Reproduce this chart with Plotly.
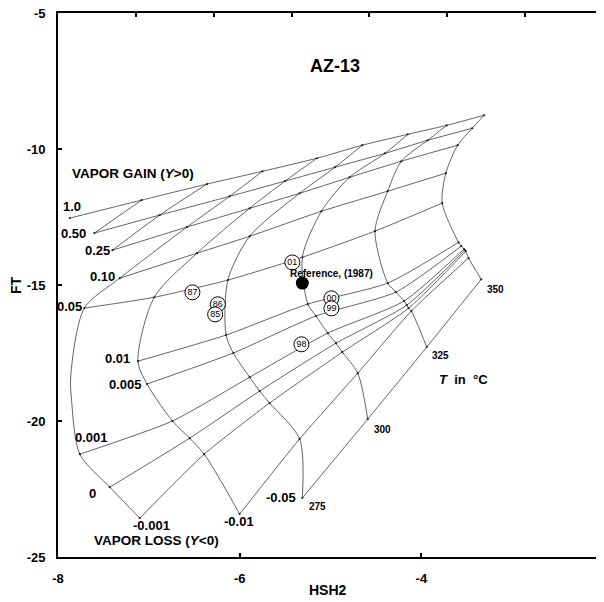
import plotly.graph_objects as go

# ---------------- data ----------------
Y_VALUES = [1.0, 0.50, 0.25, 0.10, 0.05, 0.01, 0.005, 0.001, 0, -0.001, -0.01, -0.05]
Y_LABELS = ["1.0", "0.50", "0.25", "0.10", "0.05", "0.01", "0.005", "0.001", "0", "-0.001", "-0.01", "-0.05"]
T_VALUES = [150, 175, 200, 225, 250, 275, 300, 325, 350]
T_LABELS = ["275", "300", "325", "350"]
# lowest temperature at which each Y line is drawn
Y_TMIN = [150, 175, 200, 225, 225, 250, 250, 225, 225, 225, 250, 275]

N = None
# grid nodes (HSH2, FT) for each isotherm, in the order of Y_VALUES
hsh2_T150 = [-7.87, N, N, N, N, N, N, N, N, N, N, N]
ft_T150 = [-12.54, N, N, N, N, N, N, N, N, N, N, N]
hsh2_T175 = [-7.08, -7.60, N, N, N, N, N, N, N, N, N, N]
ft_T175 = [-11.88, -13.09, N, N, N, N, N, N, N, N, N, N]
hsh2_T200 = [-6.36, -6.88, -7.40, N, N, N, N, N, N, N, N, N]
ft_T200 = [-11.29, -12.43, -13.72, N, N, N, N, N, N, N, N, N]
hsh2_T225 = [-5.75, -6.11, -6.58, -7.32, -7.71, -7.86, -7.85, -7.76, -7.43, -7.10, N, N]
ft_T225 = [-10.82, -11.74, -12.87, -14.75, -15.85, -18.35, -19.27, -21.22, -22.43, -23.57, N, N]
hsh2_T250 = [-5.15, -5.50, -5.89, -6.47, -6.94, -7.12, -7.02, -6.74, -6.55, -6.39, -6.00, N]
ft_T250 = [-10.34, -11.18, -12.18, -13.83, -15.45, -17.80, -18.64, -20.00, -20.63, -21.22, -23.42, N]
hsh2_T275 = [-4.65, -4.95, -5.34, -5.89, -6.13, -6.15, -6.07, -5.89, -5.78, -5.67, -5.34, -5.31]
ft_T275 = [-9.86, -10.67, -11.63, -13.21, -14.82, -16.84, -17.50, -18.39, -18.90, -19.34, -20.66, -22.83]
hsh2_T300 = [-4.15, -4.40, -4.79, -5.10, -5.31, -5.25, -5.16, -5.03, -4.94, -4.87, -4.70, -4.59]
ft_T300 = [-9.46, -10.16, -11.04, -12.29, -13.98, -15.70, -16.14, -16.77, -17.14, -17.47, -18.24, -19.93]
hsh2_T325 = [-3.72, -3.93, -4.22, -4.37, -4.51, -4.37, -4.28, -4.19, -4.16, -4.14, -4.11, -3.94]
ft_T325 = [-9.13, -9.68, -10.45, -11.55, -13.02, -14.93, -15.26, -15.59, -15.74, -15.85, -15.96, -17.28]
hsh2_T350 = [-3.31, -3.44, -3.60, -3.73, -3.77, -3.59, -3.56, -3.53, -3.52, -3.51, -3.48, -3.34]
ft_T350 = [-8.76, -9.24, -9.86, -10.89, -11.99, -13.43, -13.57, -13.68, -13.72, -13.76, -14.01, -14.79]

# samples (year labels)
SAMPLE_LABELS = ["01", "00", "99", "98", "87", "86", "85"]
SAMPLE_HSH2 = [-5.42, -4.99, -4.99, -5.32, -6.52, -6.24, -6.27]
SAMPLE_FT = [-14.17, -15.49, -15.86, -17.18, -15.27, -15.71, -16.08]
REF_LABEL = "Reference, (1987)"
REF_HSH2 = [-5.31]
REF_FT = [-14.93]

# ---------------- label placement ----------------
YLAB_X = [-7.73, -7.67, -7.41, -7.35, -7.71, -7.19, -7.05, -7.43, -7.62, -6.97, -6.01, -5.54]
YLAB_Y = [-12.10, -13.09, -13.72, -14.68, -15.78, -17.69, -18.64, -20.59, -22.65, -23.86, -23.71, -22.83]
YLAB_ANCHOR = ["right"] * 8 + ["center"] * 4
TLAB_X = [-5.26, -4.54, -3.90, -3.30]
TLAB_Y = [-23.16, -20.30, -17.58, -15.15]

FONT = "Liberation Sans, Arial, sans-serif"
GRID_COLOR = "#3c3c3c"

hsh2_rows = [hsh2_T150, hsh2_T175, hsh2_T200, hsh2_T225, hsh2_T250, hsh2_T275, hsh2_T300, hsh2_T325, hsh2_T350]
ft_rows = [ft_T150, ft_T175, ft_T200, ft_T225, ft_T250, ft_T275, ft_T300, ft_T325, ft_T350]

fig = go.Figure()

# isotherms
for T, hx, fy in zip(T_VALUES, hsh2_rows, ft_rows):
    xs = [v for v in hx if v is not None]
    ys = [v for v in fy if v is not None]
    if len(xs) > 1:
        fig.add_trace(go.Scatter(x=xs, y=ys, mode="lines",
                                 line=dict(color=GRID_COLOR, width=0.8, shape="spline", smoothing=0.8),
                                 hoverinfo="skip", showlegend=False))

# lines of constant Y
dot_x, dot_y = [], []
for j, tmin in enumerate(Y_TMIN):
    xs, ys = [], []
    for T, hx, fy in zip(T_VALUES, hsh2_rows, ft_rows):
        if T >= tmin and hx[j] is not None:
            xs.append(hx[j])
            ys.append(fy[j])
    dot_x += xs
    dot_y += ys
    fig.add_trace(go.Scatter(x=xs, y=ys, mode="lines",
                             line=dict(color=GRID_COLOR, width=0.8, shape="spline", smoothing=0.6),
                             hoverinfo="skip", showlegend=False))

# tiny node dots
fig.add_trace(go.Scatter(x=dot_x, y=dot_y, mode="markers",
                         marker=dict(size=2.2, color="#222"), hoverinfo="skip", showlegend=False))

# samples
for lab, sx, sy in zip(SAMPLE_LABELS, SAMPLE_HSH2, SAMPLE_FT):
    fig.add_trace(go.Scatter(x=[sx], y=[sy], mode="markers+text", text=[lab],
                             textposition="middle center",
                             textfont=dict(family=FONT, size=9, color="black"),
                             marker=dict(size=15, color="white", line=dict(color="black", width=1)),
                             showlegend=False, name=lab))

# reference point
fig.add_trace(go.Scatter(x=REF_HSH2, y=REF_FT, mode="markers",
                         marker=dict(size=13, color="black"), showlegend=False, name=REF_LABEL))

# secondary axes (top / right tick rows) need a (transparent) trace each to be drawn
fig.add_trace(go.Scatter(x=[3.5], y=[-15], xaxis="x2", yaxis="y", mode="markers",
                         marker=dict(size=1, opacity=0), showlegend=False, hoverinfo="skip"))
fig.add_trace(go.Scatter(x=[-5], y=[-15], xaxis="x", yaxis="y2", mode="markers",
                         marker=dict(size=1, opacity=0), showlegend=False, hoverinfo="skip"))

ann = []
for lab, x, y, anc in zip(Y_LABELS, YLAB_X, YLAB_Y, YLAB_ANCHOR):
    ann.append(dict(x=x, y=y, xref="x", yref="y", text="<b>%s</b>" % lab, showarrow=False,
                    xanchor=anc, yanchor="middle", font=dict(family=FONT, size=13, color="black")))
for lab, x, y in zip(T_LABELS, TLAB_X, TLAB_Y):
    ann.append(dict(x=x, y=y, xref="x", yref="y", text="<b>%s</b>" % lab, showarrow=False,
                    xanchor="left", yanchor="middle", font=dict(family=FONT, size=10, color="black")))
ann += [
    dict(x=-4.95, y=-6.96, xref="x", yref="y", text="<b>AZ-13</b>", showarrow=False,
         xanchor="center", yanchor="middle", font=dict(family=FONT, size=18, color="black")),
    dict(x=-7.87, y=-10.89, xref="x", yref="y", text="<b>VAPOR GAIN (<i>Y</i>>0)</b>", showarrow=False,
         xanchor="left", yanchor="middle", font=dict(family=FONT, size=13.5, color="black")),
    dict(x=-7.63, y=-24.41, xref="x", yref="y", text="<b>VAPOR LOSS (<i>Y</i><0)</b>", showarrow=False,
         xanchor="left", yanchor="middle", font=dict(family=FONT, size=13.5, color="black")),
    dict(x=-5.47, y=-14.56, xref="x", yref="y", text="<b>%s</b>" % REF_LABEL, showarrow=False,
         xanchor="left", yanchor="middle", font=dict(family=FONT, size=10, color="black")),
    dict(x=-3.83, y=-18.46, xref="x", yref="y", text="<b><i>T</i>\u00a0\u00a0in\u00a0\u00a0°C</b>", showarrow=False,
         xanchor="left", yanchor="middle", font=dict(family=FONT, size=13, color="black")),
    dict(x=-0.077, y=0.5, xref="paper", yref="paper", text="<b>FT</b>", showarrow=False,
         textangle=-90, xanchor="center", yanchor="middle", font=dict(family=FONT, size=14, color="black")),
    dict(x=0.495, y=-0.0607, xref="paper", yref="paper", text="<b>HSH2</b>", showarrow=False,
         xanchor="center", yanchor="middle", font=dict(family=FONT, size=14, color="black")),
]

axis_common = dict(showgrid=False, zeroline=False, showline=True, linecolor="black", linewidth=1.8,
                   ticks="inside", ticklen=4, tickwidth=1.5, tickcolor="black", automargin=False)

# the page adds an 8 px body margin, so the figure is sized to fit inside the window
fig.update_layout(
    width=596, height=594,
    margin=dict(l=50, r=1, t=5, b=45, autoexpand=False),
    paper_bgcolor="white", plot_bgcolor="white",
    font=dict(family=FONT, color="black"),
    showlegend=False,
    xaxis=dict(range=[-8, -2], tickvals=[-8, -6, -4, -2], ticktext=["-8", "-6", "-4", "-2"],
               tickfont=dict(family=FONT, size=13, color="black", weight="bold"),
               ticklabelstandoff=8, ticklabeloverflow="allow", mirror=True, **axis_common),
    yaxis=dict(range=[-25, -5], tickvals=[-25, -20, -15, -10, -5], ticktext=["-25", "-20", "-15", "-10", "-5"],
               tickfont=dict(family=FONT, size=13, color="black", weight="bold"),
               ticklabelstandoff=8, ticklabeloverflow="allow", mirror=True, **axis_common),
    xaxis2=dict(overlaying="x", side="top", anchor="y", range=[0, 7], dtick=1, showticklabels=False, **axis_common),
    yaxis2=dict(overlaying="y", side="right", anchor="x", range=[-25, -5], dtick=2.5, showticklabels=False, **axis_common),
    annotations=ann,
)

fig.write_html("out.html")
